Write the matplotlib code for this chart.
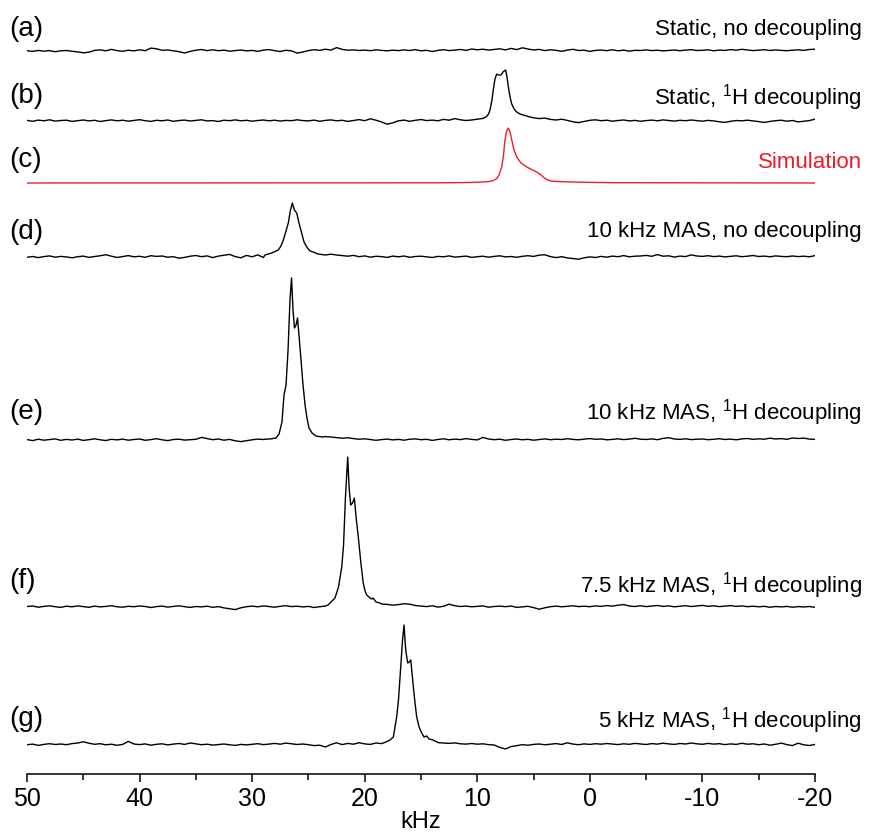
import numpy as np
import matplotlib
matplotlib.use("Agg")
import matplotlib.pyplot as plt
from matplotlib.ticker import MultipleLocator

plt.rcParams['font.family'] = ['Liberation Sans', 'DejaVu Sans']
plt.rcParams['mathtext.fontset'] = 'custom'
plt.rcParams['mathtext.rm'] = 'Liberation Sans'

# frequency window (kHz), plotted high -> low
X_START, X_END = 50, -20

# baseline noise, sampled every 0.5 kHz from 50 to -20 kHz
noise_a = [0.3, -0.4, 0.6, -0.2, 0.4, -0.7, 0.2, 0.5, -0.3, -0.9,
           -1.8, -1.2, 0.6, 1.1, 0.2, 1.6, 0.4, -0.3, 0.8, 0.1,
           1.2, 0.3, 2.9, 2.2, 0.7, 1.0, 0.2, -0.6, -2.0, -0.4,
           0.8, 1.5, 0.4, 1.2, 0.3, 0.9, -0.2, 0.4, 1.0, 0.1,
           0.6, -0.4, 0.9, 1.4, 0.3, -0.5, 0.7, 0.1, -2.1, -1.0,
           0.4, 1.3, 0.6, 1.8, 0.9, 3.4, 1.6, 0.8, 1.1, 0.5,
           0.9, 0.3, 1.2, 0.6, 0.2, 0.8, 0.4, 1.1, 0.5, 1.4,
           0.2, 0.7, -0.5, 0.6, 1.3, 0.4, 0.9, 1.5, 0.6, 2.0,
           1.2, 1.8, 0.9, 1.6, 2.2, 1.1, 2.6, 1.4, 3.2, 2.0,
           1.0, 1.6, 0.4, 1.2, 0.7, -0.3, 0.9, 1.7, 0.5, 0.8,
           -0.4, 0.6, 1.0, 0.3, 1.2, 0.2, 0.9, -0.2, 0.7, 0.5,
           1.1, 0.4, 0.8, 0.1, 0.6, 1.0, 0.3, 0.9, 1.3, 0.5,
           0.7, 1.2, 0.2, 0.9, 0.6, 1.4, 0.8, 1.7, 1.0, 0.4,
           0.9, 1.3, 0.5, 1.1, 0.6, 0.3, 0.8, 1.2, 0.6, 1.5,
           1.8]
noise_b = [0.6, -0.3, 0.9, 0.2, 1.2, -0.1, 0.5, 0.8, -0.4, 0.3,
           1.0, 0.1, 0.7, -0.5, 0.4, 1.1, 0.2, 0.8, -0.2, 0.6,
           1.3, 0.3, -0.4, 0.7, 0.2, 1.0, -0.3, 0.5, 0.9, 0.0,
           0.6, 1.2, 0.1, 0.4, -0.5, 0.8, 0.3, 1.1, 0.2, 0.7,
           -0.2, 0.5, 1.0, 0.2, 0.8, -0.1, 0.6, 0.3, 1.2, 0.4,
           0.1, 0.9, -0.3, 0.6, 1.1, 0.2, 0.7, -0.4, 0.5, 1.4,
           0.3, 2.2, 0.8, -1.0, -3.2, -1.8, 0.2, 0.9, -0.3, 0.7,
           1.5, 0.4, 0.9, 0.2, 1.6, 0.8, 2.4, 1.2, 0.5, 1.0,
           1.8, 2.6, 3.0, 3.4, 3.0, 2.8, 3.1, 3.5, 3.3, 3.6,
           3.2, 2.4, 2.9, 1.6, 1.0, 1.8, 0.6, -0.8, -1.6, -0.4,
           0.7, 1.2, 0.3, 0.8, -0.2, 0.5, 1.0, 0.1, 0.6, -0.3,
           0.4, 0.9, 0.2, 1.1, 0.5, -0.1, 0.7, 0.3, 1.0, 0.4,
           -0.2, 0.6, 0.1, -0.8, -1.4, -0.3, 0.5, 0.2, 0.8, 0.1,
           -0.6, -1.5, -0.4, 0.3, 0.8, -0.2, 0.5, -0.9, -0.3, 0.4,
           1.9]
noise_d = [-0.3, 0.5, -0.6, 0.4, 1.1, -0.2, 0.6, 0.1, -0.8, 0.3,
           0.9, -0.4, 0.5, 1.2, 2.3, 0.8, -0.5, 0.4, 1.4, 0.2,
           0.7, -0.3, 1.3, 0.6, 1.0, -0.2, 0.3, -1.2, -0.4, 0.8,
           1.5, 0.3, 1.1, -0.6, 0.9, 1.8, 2.6, 0.4, -0.8, 1.6,
           0.2, 2.1, -0.5, 0.6, 1.7, 0.3, 1.0, 1.5, 2.0, 2.4,
           2.2, 2.0, 2.6, 2.0, 2.8, 2.0, 1.4, 0.8, 1.6, 0.3,
           1.1, -0.2, 0.7, 0.4, -0.4, 0.9, 0.2, 1.0, -0.3, 0.5,
           0.8, 0.1, -0.5, 0.6, 0.2, 1.1, -0.1, 0.4, 0.9, -0.4,
           0.3, 0.8, -0.2, 0.6, 1.2, 0.1, 0.5, -0.3, 0.7, 1.3,
           0.6, 1.9, 2.2, 0.4, -0.6, 0.3, -0.9, -1.6, -2.2, -0.8,
           0.1, -0.5, 0.6, -0.2, 0.9, 0.3, 1.4, 0.2, 0.8, 1.0,
           1.6, 0.7, 2.4, 0.8, 1.2, -0.1, 0.9, 0.4, 2.1, 1.0,
           0.6, 1.3, 0.4, 0.9, 0.1, 0.7, 1.2, 0.3, 0.8, 1.5,
           0.5, 0.9, 0.2, 1.1, 0.6, 0.3, 1.0, 0.4, 0.8, 0.2,
           1.4]
noise_e = [0.4, -0.6, 0.8, -0.2, 0.5, 1.1, -0.3, 0.6, 0.0, 0.9,
           -0.4, 0.3, 1.2, 0.2, -0.5, 0.7, 0.1, 0.9, -0.2, 0.5,
           1.0, -0.3, 0.4, 1.3, 0.2, -0.6, 0.5, 0.8, -0.1, 0.3,
           0.7, 2.6, 1.4, 0.3, 1.0, -0.2, 0.6, -0.8, -1.6, -0.7,
           0.2, 0.9, 0.5, 1.1, 0.8, 1.5, 1.2, 2.0, 2.2, 2.4,
           2.6, 3.0, 2.0, 3.4, 3.0, 2.4, 1.8, 2.2, 1.4, 0.8,
           1.2, 0.5, -0.3, 0.4, 0.9, 0.1, 0.6, -0.2, 0.8, 1.1,
           0.3, 0.7, -0.4, 0.5, 1.2, 0.2, 0.9, 0.4, 1.4, 0.6,
           0.1, 2.6, 1.0, 0.3, 0.8, -0.3, 0.5, 1.0, 0.2, 0.7,
           -0.2, 0.4, 1.1, 0.3, 0.8, 0.5, 1.3, 0.6, 0.2, 0.9,
           1.4, 0.7, 1.0, 0.2, 0.6, 1.2, 0.4, 0.9, 1.7, 0.8,
           0.5, 1.1, 0.3, 1.6, 2.3, 1.0, 0.6, 1.2, 0.4, 0.8,
           1.0, 0.3, 0.7, 1.3, 0.5, 0.9, 0.2, 1.1, 1.5, 0.6,
           1.2, 0.8, 1.8, 1.0, 1.4, 0.7, 2.0, 1.5, 1.9, 0.9,
           0.6]
noise_f = [0.5, 1.0, -0.2, 0.6, 1.2, 0.3, -0.4, 0.8, 0.2, 1.1,
           0.4, -0.3, 0.9, 0.1, 0.6, 1.3, 0.2, -0.2, 0.7, 0.3,
           1.0, 0.5, -0.5, 0.4, 0.9, -0.1, 0.6, 1.2, 0.3, -0.4,
           0.5, 0.1, 0.8, -0.3, 0.4, -0.9, -1.8, -2.6, -0.8, 0.3,
           0.9, 0.2, 1.1, 0.5, -0.2, 0.7, 1.3, 0.4, 0.8, 0.1,
           0.6, -0.5, 0.3, 0.9, 0.4, 2.1, 1.6, 1.0, 2.2, 1.3,
           1.8, 1.2, 2.0, 3.0, 2.6, 1.8, 2.4, 3.3, 2.8, 1.5,
           1.0, 0.4, 1.2, -0.1, 0.7, 2.8, 1.3, 0.5, 0.9, 0.2,
           0.6, 1.1, -0.2, 0.5, 0.9, 0.3, 1.0, -0.4, 0.2, 0.7,
           -0.6, -2.2, -0.8, 0.3, 0.9, 0.2, 0.7, 1.2, 0.4, 0.8,
           0.3, 1.1, 0.6, 1.4, 0.9, 1.8, 2.4, 1.0, 0.5, 1.2,
           0.4, 0.9, 1.5, 0.6, 1.1, 0.2, 0.8, 1.3, 0.5, 1.0,
           1.6, 0.7, 1.2, 0.4, 0.9, 1.4, 0.6, 1.1, 0.3, 0.8,
           0.2, 0.7, -0.3, 0.5, 0.1, 0.6, -0.2, 0.4, 0.0, 0.5,
           -0.3]
noise_g = [0.2, 0.9, -0.4, 0.6, 1.3, 0.5, 1.0, 0.3, 1.4, 2.0,
           3.2, 1.8, 0.7, 1.3, 0.2, 0.8, -0.3, 0.6, 3.6, 1.0,
           0.4, 1.1, -0.2, 0.7, 1.2, 0.1, 0.9, 1.5, 0.6, 2.0,
           1.1, 0.3, 0.8, -0.1, 0.5, 1.0, 0.2, -0.4, 0.6, 0.1,
           0.7, 1.3, 0.4, 0.9, 1.6, 0.8, 1.9, 1.2, 0.5, 1.0,
           0.3, -0.6, -0.2, -2.0, 0.5, 2.2, 0.4, 1.6, 0.8, 2.3,
           1.1, 0.6, 2.0, 1.4, 2.4, 0.9, 1.5, 2.0, 1.3, 2.5,
           2.8, 2.2, 3.0, 2.4, 2.0, 1.6, 2.1, 1.2, 0.9, 1.5,
           0.8, 1.2, 0.4, 0.0, -2.4, -4.0, -1.6, -0.6, 0.3, -0.2,
           0.6, 1.0, 0.2, 0.8, 1.4, 0.5, 2.2, 0.9, 0.3, 1.1,
           0.6, 1.3, 0.8, 1.5, 1.0, 0.4, 1.2, 0.7, 1.6, 1.1,
           0.5, 1.4, 0.9, 1.8, 1.1, 0.6, 1.5, 1.0, 2.0, 1.2,
           0.7, 1.6, 0.9, 1.3, 0.4, 1.1, 0.6, 1.7, 0.8, 1.2,
           0.3, 1.0, -0.2, 0.7, 1.9, 0.4, -0.6, 1.8, 0.2, -0.5,
           0.6]

# resonance line shapes: frequency (kHz) and intensity
peak_b_khz = [9.49, 9.18, 9.00, 8.87, 8.71, 8.58, 8.43, 8.27, 8.12, 7.89, 7.72,
              7.48, 7.36, 7.24, 7.09, 6.94, 6.73, 6.50, 6.21, 5.91, 5.63, 5.32]
peak_b_int = [2.5, 4.5, 7, 11, 20, 31, 42, 47, 46, 46, 49,
              51, 44, 34, 24, 17, 12, 9, 7, 6, 5, 4]

sim_khz = [50, 13.31, 10.65, 9.16, 8.69, 8.27, 8.07, 7.83, 7.67, 7.54, 7.40, 7.24,
           7.09, 6.94, 6.73, 6.50, 6.12, 5.61, 5.18, 4.72, 4.34, 3.98, 3.63,
           3.25, 2.21, 0.87, -2.06, -20]
sim_int = [0, 0.2, 0.5, 1.2, 2.0, 4.3, 8, 16, 28, 43, 52, 55,
           51, 43, 33, 26, 20, 16, 13.5, 11, 8, 4.4, 2.5,
           1.7, 1.2, 0.8, 0.3, 0]

peak_d_khz = [28.86, 28.26, 27.68, 27.44, 27.23, 26.99, 26.79, 26.61, 26.43, 26.25,
              26.04, 25.84, 25.60, 25.39, 25.15, 24.86, 24.57, 24.15, 23.79]
peak_d_int = [2, 4, 7, 11, 17, 26, 34, 46, 54, 47,
              44, 34, 24, 15, 10, 6, 5, 3, 2.5]

peak_e_khz = [28.41, 27.88, 27.61, 27.35, 27.17, 26.99, 26.81, 26.64, 26.50, 26.37, 26.24,
              26.10, 25.97, 25.84, 25.66, 25.48, 25.30, 25.13, 24.95, 24.68, 24.33, 23.79]
peak_e_int = [1, 2, 6, 18, 45, 55, 90, 140, 162, 130, 112,
              115, 122, 105, 80, 55, 35, 22, 12, 7, 4, 3]

peak_f_khz = [23.26, 22.64, 22.33, 22.04, 21.88, 21.71, 21.51, 21.38, 21.24, 21.08, 20.92,
              20.75, 20.57, 20.35, 20.13, 19.97, 19.82, 19.62, 19.40, 19.26, 18.99, 18.64]
peak_f_int = [2, 9, 20, 40, 62, 110, 150, 118, 102, 104, 109,
              88, 70, 45, 24, 16, 12, 10, 8, 9, 5, 4]

peak_g_khz = [18.11, 17.75, 17.46, 17.31, 17.16, 17.00, 16.82, 16.64, 16.51, 16.36, 16.18, 16.04,
              15.91, 15.80, 15.68, 15.53, 15.38, 15.17, 14.94, 14.73, 14.49, 14.29, 13.93, 13.58]
peak_g_int = [3, 5, 8, 18, 28, 45, 75, 105, 120, 95, 82, 83,
              85, 72, 58, 42, 28, 18, 12, 8, 9, 6, 5, 3]

# vertical offsets of the stacked spectra
offsets = {'a': 723, 'b': 653, 'c': 591, 'd': 517, 'e': 334, 'f': 167, 'g': 29}

tags = ['(a)', '(b)', '(c)', '(d)', '(e)', '(f)', '(g)']
tag_y = [29, 96, 160, 232, 412, 581, 719]
titles = ['Static, no decoupling', r'Static, $^{1}$H decoupling', 'Simulation',
          '10 kHz MAS, no decoupling', r'10 kHz MAS, $^{1}$H decoupling',
          r'7.5 kHz MAS, $^{1}$H decoupling', r'5 kHz MAS, $^{1}$H decoupling']
title_y = [30, 98, 163, 232, 413, 586, 721]
title_colors = ['black', 'black', '#ee1c25', 'black', 'black', 'black', 'black']


def build_trace(noise, peak_khz=None, peak_int=None):
    x = np.linspace(X_START, X_END, len(noise))
    y = np.array(noise, dtype=float)
    if peak_khz is not None:
        lo, hi = min(peak_khz), max(peak_khz)
        keep = (x < lo) | (x > hi)
        x = np.concatenate([x[keep], peak_khz])
        y = np.concatenate([y[keep], peak_int])
        order = np.argsort(-x)
        x, y = x[order], y[order]
    return x, y


W, H = 869, 838
fig = plt.figure(figsize=(W / 100, H / 100), dpi=100)
ax = fig.add_axes([27 / W, (H - 774) / H, (815 - 27) / W, 774 / H])

traces = [
    ('a', build_trace(noise_a), 'black'),
    ('b', build_trace(noise_b, peak_b_khz, peak_b_int), 'black'),
    ('c', (np.array(sim_khz), np.array(sim_int)), '#ee1c25'),
    ('d', build_trace(noise_d, peak_d_khz, peak_d_int), 'black'),
    ('e', build_trace(noise_e, peak_e_khz, peak_e_int), 'black'),
    ('f', build_trace(noise_f, peak_f_khz, peak_f_int), 'black'),
    ('g', build_trace(noise_g, peak_g_khz, peak_g_int), 'black'),
]
for key, (x, y), col in traces:
    ax.plot(x, y + offsets[key], color=col, lw=1.0)

ax.set_xlim(X_START, X_END)
ax.set_ylim(0, 774)
for side in ('top', 'left', 'right'):
    ax.spines[side].set_visible(False)
ax.spines['bottom'].set_linewidth(1.1)
ax.set_yticks([])
ax.xaxis.set_major_locator(MultipleLocator(10))
ax.xaxis.set_minor_locator(MultipleLocator(5))
ax.tick_params(axis='x', which='major', direction='out', length=5.5, width=1.1,
               labelsize=18, pad=4)
ax.tick_params(axis='x', which='minor', direction='out', length=4.5, width=1.1)
ax.set_xticklabels([f'{int(v)}' for v in ax.get_xticks()])
ax.set_xlabel('kHz', fontsize=17, labelpad=0)
ax.patch.set_visible(False)

for t, ty in zip(tags, tag_y):
    fig.text(9 / W, 1 - ty / H, t, fontsize=20, ha='left', va='center')
for t, ty, c in zip(titles, title_y, title_colors):
    fig.text(862 / W, 1 - ty / H, t, fontsize=16, ha='right', va='center', color=c)

fig.savefig('out.png', dpi=100)
